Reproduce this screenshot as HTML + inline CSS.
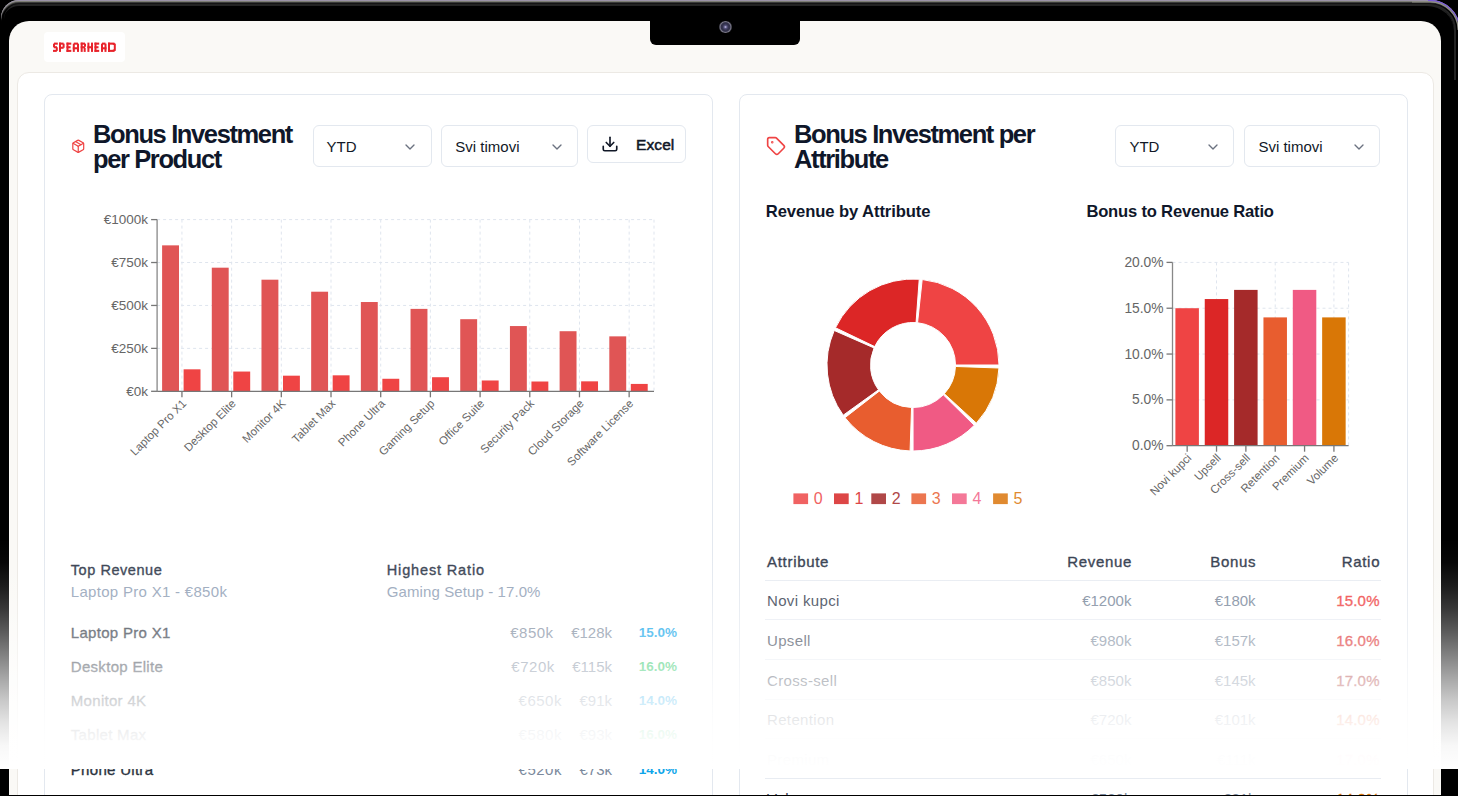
<!DOCTYPE html><html><head><meta charset="utf-8"><style>
*{margin:0;padding:0;box-sizing:border-box}
html,body{width:1458px;height:796px;overflow:hidden;background:#000;font-family:"Liberation Sans", sans-serif}
.abs{position:absolute}
#frame{position:absolute;left:1px;top:0;width:1459px;height:900px;border-radius:18px 30px 0 0;background:#000;
  box-shadow: inset 0 1px 0 #9b93a7, inset 0 2px 0 #7c7d74, inset 0 3px 0 #3a3a3a, inset 0 4px 0 #141414;}
#frame2{position:absolute;left:4px;top:4px;width:1450px;height:900px;border-radius:15px 27px 0 0;border-top:2px solid #232323;}
#screen{position:absolute;left:9.3px;top:21px;width:1431.7px;height:900px;background:#faf9f6;border-radius:20px 20px 0 0;overflow:hidden}
#notch{position:absolute;left:650px;top:21px;width:150px;height:24px;background:#000;border-radius:0 0 6px 6px}
#cam{position:absolute;left:719px;top:20.6px;width:12.6px;height:12.6px;border-radius:50%;background:radial-gradient(circle closest-side,#cfcaf0 0,#56537e 25%,#34334d 50%,#302f48 72%,#7a7888 90%,#4a4a55 100%)}
#logo{position:absolute;left:44px;top:32px;width:81px;height:30px;background:#fff;border-radius:4px}
#logo span{position:absolute;left:8.6px;top:9.6px;font-weight:bold;font-size:13.8px;color:#e8262c;letter-spacing:0.2px;transform:scaleX(0.725);transform-origin:0 0;line-height:1;-webkit-text-stroke:0.7px #e8262c}
#panel{position:absolute;left:17px;top:72px;width:1416.5px;height:900px;background:#fff;border:1px solid #ece9e4;border-radius:12px}
.card{position:absolute;top:94px;width:669px;height:900px;background:#fff;border:1px solid #e3e8ef;border-radius:8px}
.t{position:absolute;white-space:nowrap;line-height:1}
.title{font-weight:bold;font-size:25.5px;letter-spacing:-1.38px;color:#0f172a;line-height:24.8px}
.med{-webkit-text-stroke:0.35px currentColor}
.sel{position:absolute;border:1px solid #e3e8ef;border-radius:6px;background:#fff}
.sel span{position:absolute;font-size:15px;color:#111827;line-height:18px;white-space:nowrap}
.chev{position:absolute}
#overlay{position:absolute;left:0;top:539px;width:1458px;height:230px;background:linear-gradient(to bottom,rgba(255,255,255,0.000) 0%,rgba(255,255,255,0.028) 10%,rgba(255,255,255,0.104) 20%,rgba(255,255,255,0.216) 30%,rgba(255,255,255,0.352) 40%,rgba(255,255,255,0.500) 50%,rgba(255,255,255,0.648) 60%,rgba(255,255,255,0.784) 70%,rgba(255,255,255,0.896) 80%,rgba(255,255,255,0.972) 90%,rgba(255,255,255,1.000) 100%)}
#botline{position:absolute;left:0;top:795px;width:1458px;height:1px;background:#000}
svg text{font-family:"Liberation Sans", sans-serif}
</style></head><body>
<div id="frame"></div><div id="frame2"></div>
<svg class="abs" style="left:1380px;top:0" width="78" height="80" viewBox="1380 0 78 80" fill="none"><path d="M1380,5 L1430,5 A25,25 0 0 1 1455,30 L1455,80" stroke="#232323" stroke-width="2"/><path d="M1428,0.6 A29.5,29.5 0 0 1 1459.5,30" stroke="#7a5bd8" stroke-width="1.3"/><path d="M1412,1.8 L1430,1.8 A28.2,28.2 0 0 1 1458.2,30" stroke="#8f8f86" stroke-width="1.3"/></svg>
<div id="screen"></div>
<div id="notch"></div><div id="cam"></div>
<div id="logo"></div>
<svg class="abs" style="left:0;top:0" width="130" height="70"><g fill="#e8232b"><rect x="54.00" y="42.60" width="3.80" height="2.07"/><rect x="53.00" y="43.63" width="2.00" height="3.62"/><rect x="53.80" y="46.22" width="3.20" height="2.07"/><rect x="55.80" y="47.25" width="2.00" height="3.62"/><rect x="53.00" y="49.83" width="3.80" height="2.07"/><rect x="59.00" y="42.60" width="2.00" height="9.30"/><rect x="59.00" y="42.60" width="4.60" height="2.07"/><rect x="62.60" y="43.63" width="2.00" height="4.13"/><rect x="59.00" y="46.73" width="4.60" height="2.07"/><rect x="66.50" y="42.60" width="2.00" height="9.30"/><rect x="66.50" y="42.60" width="4.80" height="2.07"/><rect x="66.50" y="46.22" width="4.10" height="2.07"/><rect x="66.50" y="49.83" width="4.80" height="2.07"/><rect x="72.80" y="43.63" width="2.00" height="8.27"/><rect x="77.00" y="43.63" width="2.00" height="8.27"/><rect x="73.80" y="42.60" width="4.20" height="2.07"/><rect x="72.80" y="47.25" width="6.20" height="2.07"/><rect x="80.70" y="42.60" width="2.00" height="9.30"/><rect x="80.70" y="42.60" width="4.30" height="2.07"/><rect x="84.00" y="43.63" width="2.00" height="3.10"/><rect x="80.70" y="46.22" width="4.30" height="2.07"/><rect x="83.70" y="47.77" width="2.00" height="4.13"/><rect x="87.40" y="42.60" width="2.00" height="9.30"/><rect x="91.00" y="42.60" width="2.00" height="9.30"/><rect x="87.40" y="46.22" width="5.60" height="2.07"/><rect x="94.50" y="42.60" width="2.00" height="9.30"/><rect x="94.50" y="42.60" width="4.70" height="2.07"/><rect x="94.50" y="46.22" width="4.00" height="2.07"/><rect x="94.50" y="49.83" width="4.70" height="2.07"/><rect x="101.00" y="43.63" width="2.00" height="8.27"/><rect x="104.50" y="43.63" width="2.00" height="8.27"/><rect x="102.00" y="42.60" width="3.50" height="2.07"/><rect x="101.00" y="47.25" width="5.50" height="2.07"/><rect x="108.00" y="42.60" width="2.00" height="9.30"/><rect x="108.00" y="42.60" width="6.50" height="2.07"/><rect x="108.00" y="49.83" width="6.50" height="2.07"/><rect x="113.80" y="43.63" width="2.00" height="7.23"/><rect x="112.80" y="43.32" width="2.20" height="1.65"/><rect x="112.80" y="49.52" width="2.20" height="1.65"/></g></svg>
<div id="panel"></div>
<div class="card" style="left:44px"></div><div class="card" style="left:739px"></div>
<svg class="abs" style="left:70.8px;top:139px" width="14.5" height="14.5" viewBox="0 0 24 24" fill="none" stroke="#ef4444" stroke-width="2" stroke-linecap="round" stroke-linejoin="round"><path d="m7.5 4.27 9 5.15"/><path d="M21 8a2 2 0 0 0-1-1.73l-7-4a2 2 0 0 0-2 0l-7 4A2 2 0 0 0 3 8v8a2 2 0 0 0 1 1.73l7 4a2 2 0 0 0 2 0l7-4A2 2 0 0 0 21 16Z"/><path d="m3.3 7 8.7 5 8.7-5"/><path d="M12 22V12"/></svg>
<div class="t title" style="left:93px;top:122.3px">Bonus Investment<br>per Product</div>
<div class="sel" style="left:312.5px;top:125.4px;width:119.2px;height:41.9px"><span style="left:13px;top:11.9px">YTD</span>
<svg class="chev" style="left:88.7px;top:12.4px" width="16" height="16" viewBox="0 0 24 24"><path d="m6 9 6 6 6-6" fill="none" stroke="#6b7280" stroke-width="2" stroke-linecap="round" stroke-linejoin="round"/></svg></div>
<div class="sel" style="left:441.3px;top:125.4px;width:137.2px;height:41.9px"><span style="left:13px;top:11.9px">Svi timovi</span>
<svg class="chev" style="left:106.7px;top:12.4px" width="16" height="16" viewBox="0 0 24 24"><path d="m6 9 6 6 6-6" fill="none" stroke="#6b7280" stroke-width="2" stroke-linecap="round" stroke-linejoin="round"/></svg></div>
<div class="sel" style="left:587.4px;top:125.3px;width:98.8px;height:37.9px"></div>
<svg class="abs" style="left:600.7px;top:135.4px" width="18" height="18" viewBox="0 0 24 24" fill="none" stroke="#111827" stroke-width="2.2" stroke-linecap="round" stroke-linejoin="round"><path d="M21 15v4a2 2 0 0 1-2 2H5a2 2 0 0 1-2-2v-4"/><polyline points="7 10 12 15 17 10"/><line x1="12" x2="12" y1="15" y2="3"/></svg>
<div class="t med" style="left:636px;top:137px;font-size:15.5px;letter-spacing:0.1px;color:#111827;-webkit-text-stroke:0.5px #111827">Excel</div>
<svg class="abs" style="left:765.6px;top:136px" width="20" height="20" viewBox="0 0 24 24" fill="none" stroke="#ef4444" stroke-width="2" stroke-linecap="round" stroke-linejoin="round"><path d="M12.586 2.586A2 2 0 0 0 11.172 2H4a2 2 0 0 0-2 2v7.172a2 2 0 0 0 .586 1.414l8.704 8.704a2.426 2.426 0 0 0 3.42 0l6.58-6.58a2.426 2.426 0 0 0 0-3.42z"/><circle cx="7.5" cy="7.5" r=".5" fill="#ef4444"/></svg>
<div class="t title" style="left:794px;top:122.3px">Bonus Investment per<br>Attribute</div>
<div class="sel" style="left:1115.4px;top:125.3px;width:119px;height:41.7px"><span style="left:13px;top:11.9px">YTD</span>
<svg class="chev" style="left:88.5px;top:12.4px" width="16" height="16" viewBox="0 0 24 24"><path d="m6 9 6 6 6-6" fill="none" stroke="#6b7280" stroke-width="2" stroke-linecap="round" stroke-linejoin="round"/></svg></div>
<div class="sel" style="left:1244.4px;top:125.3px;width:135.8px;height:41.7px"><span style="left:13px;top:11.9px">Svi timovi</span>
<svg class="chev" style="left:105.3px;top:12.4px" width="16" height="16" viewBox="0 0 24 24"><path d="m6 9 6 6 6-6" fill="none" stroke="#6b7280" stroke-width="2" stroke-linecap="round" stroke-linejoin="round"/></svg></div>
<div class="t" style="left:765.8px;top:203.6px;font-size:16.6px;font-weight:bold;letter-spacing:-0.08px;color:#0f172a">Revenue by Attribute</div>
<div class="t" style="left:1086.4px;top:203.6px;font-size:16.6px;font-weight:bold;letter-spacing:-0.2px;color:#0f172a">Bonus to Revenue Ratio</div>
<svg class="abs" style="left:0;top:0" width="1458" height="796">
<line x1="157.1" y1="219.60" x2="654.0" y2="219.60" stroke="#dfe5ee" stroke-dasharray="3 3"/>
<line x1="157.1" y1="262.52" x2="654.0" y2="262.52" stroke="#dfe5ee" stroke-dasharray="3 3"/>
<line x1="157.1" y1="305.45" x2="654.0" y2="305.45" stroke="#dfe5ee" stroke-dasharray="3 3"/>
<line x1="157.1" y1="348.38" x2="654.0" y2="348.38" stroke="#dfe5ee" stroke-dasharray="3 3"/>
<line x1="181.94" y1="219.6" x2="181.94" y2="391.3" stroke="#dfe5ee" stroke-dasharray="3 3"/>
<line x1="231.63" y1="219.6" x2="231.63" y2="391.3" stroke="#dfe5ee" stroke-dasharray="3 3"/>
<line x1="281.32" y1="219.6" x2="281.32" y2="391.3" stroke="#dfe5ee" stroke-dasharray="3 3"/>
<line x1="331.01" y1="219.6" x2="331.01" y2="391.3" stroke="#dfe5ee" stroke-dasharray="3 3"/>
<line x1="380.70" y1="219.6" x2="380.70" y2="391.3" stroke="#dfe5ee" stroke-dasharray="3 3"/>
<line x1="430.39" y1="219.6" x2="430.39" y2="391.3" stroke="#dfe5ee" stroke-dasharray="3 3"/>
<line x1="480.09" y1="219.6" x2="480.09" y2="391.3" stroke="#dfe5ee" stroke-dasharray="3 3"/>
<line x1="529.77" y1="219.6" x2="529.77" y2="391.3" stroke="#dfe5ee" stroke-dasharray="3 3"/>
<line x1="579.47" y1="219.6" x2="579.47" y2="391.3" stroke="#dfe5ee" stroke-dasharray="3 3"/>
<line x1="629.15" y1="219.6" x2="629.15" y2="391.3" stroke="#dfe5ee" stroke-dasharray="3 3"/>
<line x1="654.0" y1="219.6" x2="654.0" y2="391.3" stroke="#dfe5ee" stroke-dasharray="3 3"/>
<rect x="162.10" y="245.35" width="16.9" height="145.95" fill="#e05555"/>
<rect x="183.60" y="369.32" width="16.9" height="21.98" fill="#ef4444"/>
<rect x="211.79" y="267.68" width="16.9" height="123.62" fill="#e05555"/>
<rect x="233.29" y="371.55" width="16.9" height="19.75" fill="#ef4444"/>
<rect x="261.48" y="279.69" width="16.9" height="111.61" fill="#e05555"/>
<rect x="282.98" y="375.68" width="16.9" height="15.62" fill="#ef4444"/>
<rect x="311.17" y="291.71" width="16.9" height="99.59" fill="#e05555"/>
<rect x="332.67" y="375.33" width="16.9" height="15.97" fill="#ef4444"/>
<rect x="360.86" y="302.02" width="16.9" height="89.28" fill="#e05555"/>
<rect x="382.36" y="378.77" width="16.9" height="12.53" fill="#ef4444"/>
<rect x="410.55" y="308.88" width="16.9" height="82.42" fill="#e05555"/>
<rect x="432.05" y="377.22" width="16.9" height="14.08" fill="#ef4444"/>
<rect x="460.24" y="319.19" width="16.9" height="72.11" fill="#e05555"/>
<rect x="481.74" y="380.48" width="16.9" height="10.82" fill="#ef4444"/>
<rect x="509.93" y="326.05" width="16.9" height="65.25" fill="#e05555"/>
<rect x="531.43" y="381.51" width="16.9" height="9.79" fill="#ef4444"/>
<rect x="559.62" y="331.21" width="16.9" height="60.09" fill="#e05555"/>
<rect x="581.12" y="381.34" width="16.9" height="9.96" fill="#ef4444"/>
<rect x="609.31" y="336.36" width="16.9" height="54.94" fill="#e05555"/>
<rect x="630.81" y="383.92" width="16.9" height="7.38" fill="#ef4444"/>
<line x1="157.1" y1="219.6" x2="157.1" y2="391.3" stroke="#888" stroke-width="1.3"/>
<line x1="157.1" y1="391.3" x2="654.0" y2="391.3" stroke="#777" stroke-width="1.3"/>
<line x1="151.1" y1="219.60" x2="157.1" y2="219.60" stroke="#777" stroke-width="1.3"/>
<text x="148.1" y="224.20" text-anchor="end" font-size="13.5" fill="#666">€1000k</text>
<line x1="151.1" y1="262.52" x2="157.1" y2="262.52" stroke="#777" stroke-width="1.3"/>
<text x="148.1" y="267.12" text-anchor="end" font-size="13.5" fill="#666">€750k</text>
<line x1="151.1" y1="305.45" x2="157.1" y2="305.45" stroke="#777" stroke-width="1.3"/>
<text x="148.1" y="310.05" text-anchor="end" font-size="13.5" fill="#666">€500k</text>
<line x1="151.1" y1="348.38" x2="157.1" y2="348.38" stroke="#777" stroke-width="1.3"/>
<text x="148.1" y="352.98" text-anchor="end" font-size="13.5" fill="#666">€250k</text>
<line x1="151.1" y1="391.30" x2="157.1" y2="391.30" stroke="#777" stroke-width="1.3"/>
<text x="148.1" y="395.90" text-anchor="end" font-size="13.5" fill="#666">€0k</text>
<line x1="181.94" y1="391.3" x2="181.94" y2="397.3" stroke="#777" stroke-width="1.3"/>
<text x="186.94" y="404.30" text-anchor="end" font-size="11.5" fill="#666" transform="rotate(-45 186.94 404.30)">Laptop Pro X1</text>
<line x1="231.63" y1="391.3" x2="231.63" y2="397.3" stroke="#777" stroke-width="1.3"/>
<text x="236.63" y="404.30" text-anchor="end" font-size="11.5" fill="#666" transform="rotate(-45 236.63 404.30)">Desktop Elite</text>
<line x1="281.32" y1="391.3" x2="281.32" y2="397.3" stroke="#777" stroke-width="1.3"/>
<text x="286.32" y="404.30" text-anchor="end" font-size="11.5" fill="#666" transform="rotate(-45 286.32 404.30)">Monitor 4K</text>
<line x1="331.01" y1="391.3" x2="331.01" y2="397.3" stroke="#777" stroke-width="1.3"/>
<text x="336.01" y="404.30" text-anchor="end" font-size="11.5" fill="#666" transform="rotate(-45 336.01 404.30)">Tablet Max</text>
<line x1="380.70" y1="391.3" x2="380.70" y2="397.3" stroke="#777" stroke-width="1.3"/>
<text x="385.70" y="404.30" text-anchor="end" font-size="11.5" fill="#666" transform="rotate(-45 385.70 404.30)">Phone Ultra</text>
<line x1="430.39" y1="391.3" x2="430.39" y2="397.3" stroke="#777" stroke-width="1.3"/>
<text x="435.39" y="404.30" text-anchor="end" font-size="11.5" fill="#666" transform="rotate(-45 435.39 404.30)">Gaming Setup</text>
<line x1="480.09" y1="391.3" x2="480.09" y2="397.3" stroke="#777" stroke-width="1.3"/>
<text x="485.09" y="404.30" text-anchor="end" font-size="11.5" fill="#666" transform="rotate(-45 485.09 404.30)">Office Suite</text>
<line x1="529.77" y1="391.3" x2="529.77" y2="397.3" stroke="#777" stroke-width="1.3"/>
<text x="534.77" y="404.30" text-anchor="end" font-size="11.5" fill="#666" transform="rotate(-45 534.77 404.30)">Security Pack</text>
<line x1="579.47" y1="391.3" x2="579.47" y2="397.3" stroke="#777" stroke-width="1.3"/>
<text x="584.47" y="404.30" text-anchor="end" font-size="11.5" fill="#666" transform="rotate(-45 584.47 404.30)">Cloud Storage</text>
<line x1="629.15" y1="391.3" x2="629.15" y2="397.3" stroke="#777" stroke-width="1.3"/>
<text x="634.15" y="404.30" text-anchor="end" font-size="11.5" fill="#666" transform="rotate(-45 634.15 404.30)">Software License</text>
<line x1="1172.5" y1="262.40" x2="1348.6" y2="262.40" stroke="#dfe5ee" stroke-dasharray="3 3"/>
<line x1="1172.5" y1="308.22" x2="1348.6" y2="308.22" stroke="#dfe5ee" stroke-dasharray="3 3"/>
<line x1="1172.5" y1="354.05" x2="1348.6" y2="354.05" stroke="#dfe5ee" stroke-dasharray="3 3"/>
<line x1="1172.5" y1="399.88" x2="1348.6" y2="399.88" stroke="#dfe5ee" stroke-dasharray="3 3"/>
<line x1="1216.53" y1="262.4" x2="1216.53" y2="445.7" stroke="#dfe5ee" stroke-dasharray="3 3"/>
<line x1="1275.22" y1="262.4" x2="1275.22" y2="445.7" stroke="#dfe5ee" stroke-dasharray="3 3"/>
<line x1="1333.92" y1="262.4" x2="1333.92" y2="445.7" stroke="#dfe5ee" stroke-dasharray="3 3"/>
<line x1="1348.6" y1="262.4" x2="1348.6" y2="445.7" stroke="#dfe5ee" stroke-dasharray="3 3"/>
<rect x="1175.40" y="308.22" width="23.5" height="137.48" fill="#ef4444"/>
<rect x="1204.75" y="299.06" width="23.5" height="146.64" fill="#dc2626"/>
<rect x="1234.10" y="289.89" width="23.5" height="155.81" fill="#a52a2a"/>
<rect x="1263.45" y="317.39" width="23.5" height="128.31" fill="#e85d2f"/>
<rect x="1292.80" y="289.89" width="23.5" height="155.81" fill="#f05a84"/>
<rect x="1322.15" y="317.39" width="23.5" height="128.31" fill="#d97706"/>
<line x1="1172.5" y1="262.4" x2="1172.5" y2="445.7" stroke="#888" stroke-width="1.3"/>
<line x1="1172.5" y1="445.7" x2="1348.6" y2="445.7" stroke="#777" stroke-width="1.3"/>
<line x1="1166.5" y1="262.40" x2="1172.5" y2="262.40" stroke="#777" stroke-width="1.3"/>
<text x="1163.5" y="267.00" text-anchor="end" font-size="13.8" fill="#666">20.0%</text>
<line x1="1166.5" y1="308.22" x2="1172.5" y2="308.22" stroke="#777" stroke-width="1.3"/>
<text x="1163.5" y="312.82" text-anchor="end" font-size="13.8" fill="#666">15.0%</text>
<line x1="1166.5" y1="354.05" x2="1172.5" y2="354.05" stroke="#777" stroke-width="1.3"/>
<text x="1163.5" y="358.65" text-anchor="end" font-size="13.8" fill="#666">10.0%</text>
<line x1="1166.5" y1="399.88" x2="1172.5" y2="399.88" stroke="#777" stroke-width="1.3"/>
<text x="1163.5" y="404.48" text-anchor="end" font-size="13.8" fill="#666">5.0%</text>
<line x1="1166.5" y1="445.70" x2="1172.5" y2="445.70" stroke="#777" stroke-width="1.3"/>
<text x="1163.5" y="450.30" text-anchor="end" font-size="13.8" fill="#666">0.0%</text>
<line x1="1187.17" y1="445.7" x2="1187.17" y2="451.7" stroke="#777" stroke-width="1.3"/>
<text x="1192.17" y="458.70" text-anchor="end" font-size="11.5" fill="#666" transform="rotate(-45 1192.17 458.70)">Novi kupci</text>
<line x1="1216.53" y1="445.7" x2="1216.53" y2="451.7" stroke="#777" stroke-width="1.3"/>
<text x="1221.53" y="458.70" text-anchor="end" font-size="11.5" fill="#666" transform="rotate(-45 1221.53 458.70)">Upsell</text>
<line x1="1245.88" y1="445.7" x2="1245.88" y2="451.7" stroke="#777" stroke-width="1.3"/>
<text x="1250.88" y="458.70" text-anchor="end" font-size="11.5" fill="#666" transform="rotate(-45 1250.88 458.70)">Cross-sell</text>
<line x1="1275.22" y1="445.7" x2="1275.22" y2="451.7" stroke="#777" stroke-width="1.3"/>
<text x="1280.22" y="458.70" text-anchor="end" font-size="11.5" fill="#666" transform="rotate(-45 1280.22 458.70)">Retention</text>
<line x1="1304.57" y1="445.7" x2="1304.57" y2="451.7" stroke="#777" stroke-width="1.3"/>
<text x="1309.57" y="458.70" text-anchor="end" font-size="11.5" fill="#666" transform="rotate(-45 1309.57 458.70)">Premium</text>
<line x1="1333.92" y1="445.7" x2="1333.92" y2="451.7" stroke="#777" stroke-width="1.3"/>
<text x="1338.92" y="458.70" text-anchor="end" font-size="11.5" fill="#666" transform="rotate(-45 1338.92 458.70)">Volume</text>
<path d="M999.00,365.00 A86.0,86.0 0 0 0 922.21,279.49 L917.55,322.74 A42.5,42.5 0 0 1 955.50,365.00 Z" fill="#ef4444" stroke="#fff" stroke-width="1"/>
<path d="M919.22,279.22 A86.0,86.0 0 0 0 835.48,327.76 L874.69,346.59 A42.5,42.5 0 0 1 916.07,322.61 Z" fill="#dc2626" stroke="#fff" stroke-width="1"/>
<path d="M834.23,330.48 A86.0,86.0 0 0 0 843.19,415.23 L878.50,389.82 A42.5,42.5 0 0 1 874.07,347.94 Z" fill="#a52a2a" stroke="#fff" stroke-width="1"/>
<path d="M844.99,417.63 A86.0,86.0 0 0 0 910.07,450.95 L911.55,407.48 A42.5,42.5 0 0 1 879.39,391.01 Z" fill="#e85d2f" stroke="#fff" stroke-width="1"/>
<path d="M913.07,451.00 A86.0,86.0 0 0 0 974.31,425.31 L943.30,394.80 A42.5,42.5 0 0 1 913.04,407.50 Z" fill="#f05a84" stroke="#fff" stroke-width="1"/>
<path d="M976.38,423.13 A86.0,86.0 0 0 0 998.95,368.00 L955.47,366.48 A42.5,42.5 0 0 1 944.32,393.73 Z" fill="#d97706" stroke="#fff" stroke-width="1"/>
<rect x="793.4" y="493.4" width="14.7" height="10.7" fill="#f06262"/>
<text x="813.8" y="504.2" font-size="16" fill="#f06262">0</text>
<rect x="834.0" y="493.4" width="14.7" height="10.7" fill="#dd4646"/>
<text x="854.4" y="504.2" font-size="16" fill="#dd4646">1</text>
<rect x="871.3" y="493.4" width="14.7" height="10.7" fill="#b04848"/>
<text x="891.7" y="504.2" font-size="16" fill="#b04848">2</text>
<rect x="911.4" y="493.4" width="14.7" height="10.7" fill="#ec7650"/>
<text x="931.8" y="504.2" font-size="16" fill="#ec7650">3</text>
<rect x="952.0" y="493.4" width="14.7" height="10.7" fill="#f47898"/>
<text x="972.4" y="504.2" font-size="16" fill="#f47898">4</text>
<rect x="993.1" y="493.4" width="14.7" height="10.7" fill="#e08a30"/>
<text x="1013.5" y="504.2" font-size="16" fill="#e08a30">5</text>
</svg>
<div class="t med" style="left:70.8px;top:563px;font-size:14.5px;letter-spacing:0.55px;color:#374151">Top Revenue</div>
<div class="t" style="left:70.8px;top:584.3px;font-size:15px;letter-spacing:0.3px;color:#94a3b8">Laptop Pro X1 - €850k</div>
<div class="t med" style="left:386.8px;top:563px;font-size:14.5px;letter-spacing:0.85px;color:#374151">Highest Ratio</div>
<div class="t" style="left:386.8px;top:584.3px;font-size:15px;letter-spacing:0.1px;color:#94a3b8">Gaming Setup - 17.0%</div>
<div class="t med" style="left:70.8px;top:624.7px;font-size:15px;letter-spacing:0.3px;color:#2b3340">Laptop Pro X1</div>
<div class="t" style="right:846px;top:624.7px;font-size:15px;color:#7b899c;display:flex;gap:17.5px"><span style="letter-spacing:0.5px">€850k</span><span>€128k</span></div>
<div class="t" style="right:781px;top:625.7px;font-size:13.5px;font-weight:bold;color:#0ea5e9">15.0%</div>
<div class="t med" style="left:70.8px;top:658.9px;font-size:15px;letter-spacing:0.3px;color:#2b3340">Desktop Elite</div>
<div class="t" style="right:846px;top:658.9px;font-size:15px;color:#7b899c;display:flex;gap:17.5px"><span style="letter-spacing:0.5px">€720k</span><span>€115k</span></div>
<div class="t" style="right:781px;top:659.9px;font-size:13.5px;font-weight:bold;color:#22c55e">16.0%</div>
<div class="t med" style="left:70.8px;top:693.2px;font-size:15px;letter-spacing:0.3px;color:#2b3340">Monitor 4K</div>
<div class="t" style="right:846px;top:693.2px;font-size:15px;color:#7b899c;display:flex;gap:17.5px"><span style="letter-spacing:0.5px">€650k</span><span>€91k</span></div>
<div class="t" style="right:781px;top:694.2px;font-size:13.5px;font-weight:bold;color:#0ea5e9">14.0%</div>
<div class="t med" style="left:70.8px;top:727.4px;font-size:15px;letter-spacing:0.3px;color:#2b3340">Tablet Max</div>
<div class="t" style="right:846px;top:727.4px;font-size:15px;color:#7b899c;display:flex;gap:17.5px"><span style="letter-spacing:0.5px">€580k</span><span>€93k</span></div>
<div class="t" style="right:781px;top:728.4px;font-size:13.5px;font-weight:bold;color:#22c55e">16.0%</div>
<div class="t med" style="left:70.8px;top:761.7px;font-size:15px;letter-spacing:0.3px;color:#2b3340">Phone Ultra</div>
<div class="t" style="right:846px;top:761.7px;font-size:15px;color:#7b899c;display:flex;gap:17.5px"><span style="letter-spacing:0.5px">€520k</span><span>€73k</span></div>
<div class="t" style="right:781px;top:762.7px;font-size:13.5px;font-weight:bold;color:#0ea5e9">14.0%</div>
<div class="t med" style="left:767px;top:554px;font-size:15px;letter-spacing:0.7px;color:#374151">Attribute</div>
<div class="t med" style="right:325.9px;top:554px;font-size:15px;letter-spacing:0.7px;color:#374151">Revenue</div>
<div class="t med" style="right:201.7px;top:554px;font-size:15px;letter-spacing:0.7px;color:#374151">Bonus</div>
<div class="t med" style="right:77.8px;top:554px;font-size:15px;letter-spacing:0.7px;color:#374151">Ratio</div>
<div class="abs" style="left:765px;top:579.8px;width:616px;height:1px;background:#e8ecf2"></div>
<div class="abs" style="left:765px;top:619.4px;width:616px;height:1px;background:#e8ecf2"></div>
<div class="abs" style="left:765px;top:659.1px;width:616px;height:1px;background:#e8ecf2"></div>
<div class="abs" style="left:765px;top:698.7px;width:616px;height:1px;background:#e8ecf2"></div>
<div class="abs" style="left:765px;top:738.4px;width:616px;height:1px;background:#e8ecf2"></div>
<div class="abs" style="left:765px;top:778.0px;width:616px;height:1px;background:#e8ecf2"></div>
<div class="t" style="left:767px;top:593.2px;font-size:15px;letter-spacing:0.35px;color:#374151">Novi kupci</div>
<div class="t" style="right:326.6px;top:593.2px;font-size:15px;color:#7b899c">€1200k</div>
<div class="t" style="right:202.4px;top:593.2px;font-size:15px;color:#7b899c">€180k</div>
<div class="t med" style="right:78.3px;top:593.2px;font-size:15px;letter-spacing:0.2px;color:#ef4444">15.0%</div>
<div class="t" style="left:767px;top:632.8px;font-size:15px;letter-spacing:0.35px;color:#374151">Upsell</div>
<div class="t" style="right:326.6px;top:632.8px;font-size:15px;color:#7b899c">€980k</div>
<div class="t" style="right:202.4px;top:632.8px;font-size:15px;color:#7b899c">€157k</div>
<div class="t med" style="right:78.3px;top:632.8px;font-size:15px;letter-spacing:0.2px;color:#dc2626">16.0%</div>
<div class="t" style="left:767px;top:672.5px;font-size:15px;letter-spacing:0.35px;color:#374151">Cross-sell</div>
<div class="t" style="right:326.6px;top:672.5px;font-size:15px;color:#7b899c">€850k</div>
<div class="t" style="right:202.4px;top:672.5px;font-size:15px;color:#7b899c">€145k</div>
<div class="t med" style="right:78.3px;top:672.5px;font-size:15px;letter-spacing:0.2px;color:#a52a2a">17.0%</div>
<div class="t" style="left:767px;top:712.1px;font-size:15px;letter-spacing:0.35px;color:#374151">Retention</div>
<div class="t" style="right:326.6px;top:712.1px;font-size:15px;color:#7b899c">€720k</div>
<div class="t" style="right:202.4px;top:712.1px;font-size:15px;color:#7b899c">€101k</div>
<div class="t med" style="right:78.3px;top:712.1px;font-size:15px;letter-spacing:0.2px;color:#e85d2f">14.0%</div>
<div class="t" style="left:767px;top:751.8px;font-size:15px;letter-spacing:0.35px;color:#374151">Premium</div>
<div class="t" style="right:326.6px;top:751.8px;font-size:15px;color:#7b899c">€650k</div>
<div class="t" style="right:202.4px;top:751.8px;font-size:15px;color:#7b899c">€111k</div>
<div class="t med" style="right:78.3px;top:751.8px;font-size:15px;letter-spacing:0.2px;color:#f05a84">17.0%</div>
<div class="t" style="left:767px;top:791.4px;font-size:15px;letter-spacing:0.35px;color:#374151">Volume</div>
<div class="t" style="right:326.6px;top:791.4px;font-size:15px;color:#7b899c">€580k</div>
<div class="t" style="right:202.4px;top:791.4px;font-size:15px;color:#7b899c">€81k</div>
<div class="t med" style="right:78.3px;top:791.4px;font-size:15px;letter-spacing:0.2px;color:#d97706">14.0%</div>
<div id="overlay"></div><div id="botline"></div>
</body></html>
